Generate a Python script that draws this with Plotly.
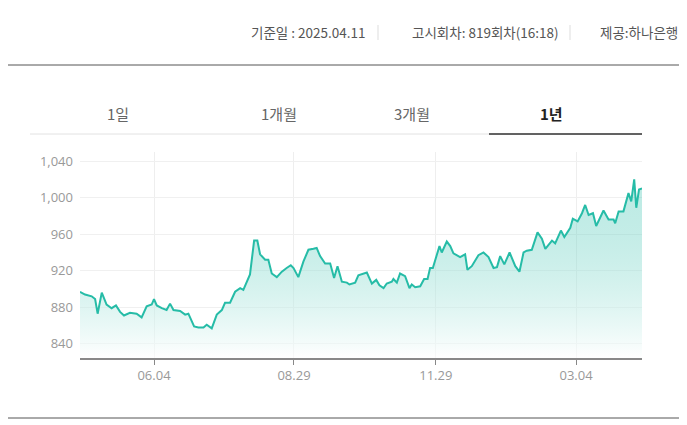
import plotly.graph_objects as go

# trading-day index and rate
day = [0, 2.2, 5.1, 6.6, 7.7, 9.5, 11.6, 13.8, 15.7, 17.5, 19.2, 21.8, 24.7, 26.9, 29.1, 31.3, 32.3, 33.5,
       35.7, 37.8, 39.3, 40.8, 43.7, 45.9, 47.3, 49.8, 51.7, 53.9, 55.3, 57.5, 59.7, 61.9, 63.3, 65.5, 67.7,
       69.9, 71.3, 74.2, 76.0, 77.4, 78.6, 80.8, 82.2, 83.7, 85.9, 88.1, 90.2, 92.0, 93.2, 95.3, 97.5, 99.7,
       101.9, 103.3, 104.8, 107.0, 109.2, 110.9, 112.4, 114.3, 116.5, 117.6, 120.1, 121.5,
       125.2, 127.4, 129.3, 130.7, 132.5, 133.9, 136.1, 136.8, 138.3, 139.7, 141.9, 143.8, 144.8, 146.3,
       148.5, 150.2, 151.7, 152.8, 154.0, 156.9, 157.9, 160.1, 161.6, 163.0, 165.9, 168.1, 169.1, 171.0,
       173.9, 176.1, 178.3, 180.5, 182.0, 183.4, 185.2, 187.5, 190.0, 191.8, 193.6, 195.0, 197.2, 199.7,
       201.6, 203.1, 206.0, 207.4, 209.9, 211.4, 214.0, 215.1, 217.2, 219.1, 220.5, 222.0, 223.9, 225.3,
       228.5, 230.7, 232.9, 233.6, 235.1, 237.2, 239.4, 240.6, 241.9, 242.8, 244.0, 245.3]
rate = [897, 894, 892, 889, 873, 896, 883, 879, 882, 875, 871, 874, 873, 869, 881, 883, 889, 882,
        879, 877, 884, 877, 876, 872, 873, 859, 858, 858, 861, 857, 872, 877, 885, 885, 897,
        901, 899, 916, 953, 953, 938, 932, 932, 917, 913, 919, 923, 926, 923, 913, 930, 943,
        944, 945, 936, 928, 928, 912, 925, 908, 907, 905, 907, 915,
        918, 906, 910, 904, 901, 906, 908, 911, 907, 917, 914, 901, 905, 902,
        903, 911, 911, 923, 923, 947, 940, 952, 947, 939, 935, 938, 921, 925,
        937, 940, 935, 923, 924, 936, 927, 940, 925, 919, 940, 942, 943, 962,
        955, 944, 953, 950, 964, 957, 967, 977, 974, 983, 992, 981, 983, 969,
        986, 976, 976, 972, 985, 985, 1005, 996, 1020, 989, 1009, 1010]
tick_pos = [32.3, 93.4, 155.3, 216.5]
tick_text = ["06.04", "08.29", "11.29", "03.04"]
y_ticks = [840, 880, 920, 960, 1000, 1040]
tabs = ["1일", "1개월", "3개월", "1년"]
tab_x = [105, 259, 412, 565]

# page body has an 8px margin, so the figure is 8px smaller
W, H = 679, 417
fig = go.Figure()
fig.add_trace(go.Scatter(x=day, y=[824] * len(day), mode="lines", line=dict(width=0),
                         hoverinfo="skip", showlegend=False))
fig.add_trace(go.Scatter(
    x=day, y=rate, mode="lines", line=dict(color="#26bca7", width=2),
    fill="tonexty",
    fillgradient=dict(type="vertical",
                      colorscale=[[0, "rgba(255,255,255,0.6)"], [1, "rgba(38,188,167,0.3)"]]),
    showlegend=False))

fig.update_layout(
    width=W, height=H, paper_bgcolor="white", plot_bgcolor="white",
    margin=dict(l=72, r=45, t=144, b=67),
    font=dict(family="Noto Sans CJK KR", color="#999"),
    xaxis=dict(range=[0, 245.3], tickvals=tick_pos, ticktext=tick_text,
               showgrid=True, gridcolor="#eeeeee", zeroline=False,
               showline=True, linecolor="#888", linewidth=1.5,
               ticks="outside", ticklen=5, tickcolor="#888",
               tickfont=dict(size=13, color="#999", family="Open Sans")),
    yaxis=dict(range=[824.5, 1050], tickvals=y_ticks, tickformat=",",
               showgrid=True, gridcolor="#f0f0f0", zeroline=False,
               ticks="", ticklabelstandoff=6,
               tickfont=dict(size=13, color="#999", family="Open Sans")),
)

# page pixel -> paper coords
px = lambda v: (v - 80) / 562
py = lambda v: (358 - v) / 206
shapes = [
    dict(type="rect", xref="paper", yref="paper", x0=px(0.5), x1=px(680), y0=py(418), y1=py(65),
         line=dict(color="#555", width=1)),
    dict(type="line", xref="paper", yref="paper", x0=px(30), x1=px(642), y0=py(134), y1=py(134),
         line=dict(color="#e2e2e2", width=1)),
    dict(type="line", xref="paper", yref="paper", x0=px(489), x1=px(642), y0=py(134), y1=py(134),
         line=dict(color="#333", width=1.5)),
    dict(type="line", xref="paper", yref="paper", x0=px(378), x1=px(378), y0=py(40), y1=py(25),
         line=dict(color="#ddd", width=1)),
    dict(type="line", xref="paper", yref="paper", x0=px(570), x1=px(570), y0=py(40), y1=py(25),
         line=dict(color="#ddd", width=1)),
]
fig.update_layout(shapes=shapes)

ann = [
    dict(text="기준일 : 2025.04.11", x=px(368), xanchor="right"),
    dict(text="고시회차: 819회차(16:18)", x=px(561), xanchor="right"),
    dict(text="제공:하나은행", x=px(680), xanchor="right"),
]
for a in ann:
    fig.add_annotation(xref="paper", yref="paper", y=py(32), yanchor="middle", showarrow=False,
                       font=dict(size=13.5, color="#555"), **a)
for t, x in zip(tabs, tab_x):
    fig.add_annotation(xref="paper", yref="paper", x=px(x), y=py(113), yanchor="middle",
                       showarrow=False,
                       text=f"<b>{t}</b>" if t == "1년" else t,
                       font=dict(size=15, color="#222" if t == "1년" else "#666"))

fig.write_html("out.html")
